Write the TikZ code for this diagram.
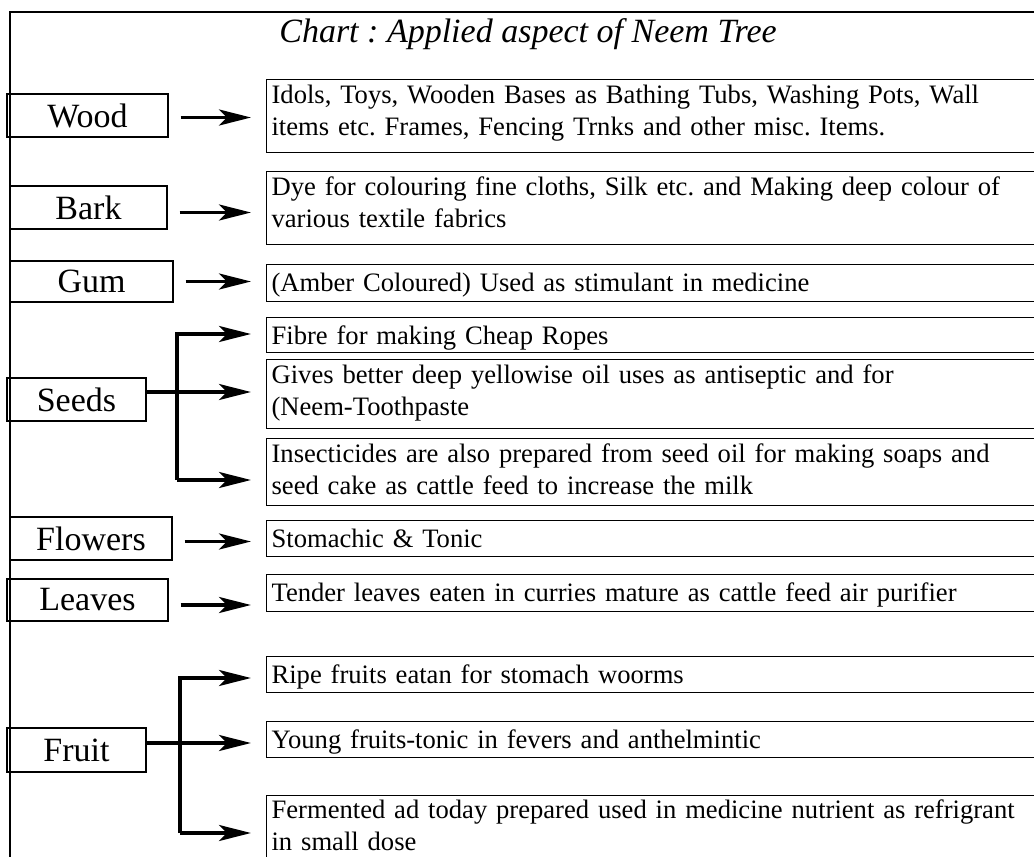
\documentclass[tikz,border=0pt]{standalone}
\usepackage{fontspec}
\setmainfont{Liberation Serif}
\frenchspacing
\usepackage{tikz}
\usetikzlibrary{arrows.meta, positioning}
\newcommand{\titlefont}{\fontsize{34}{40}\selectfont\itshape}
\newcommand{\labfont}{\fontsize{34}{40}\selectfont}
\newcommand{\usetxtfont}{\fontsize{26.6}{32}\selectfont}

\begin{document}
\begin{tikzpicture}[
		x=1pt, y=-1pt,
		partbox/.style={rectangle, draw, line width=1.2pt, inner sep=0pt,
			minimum height=43pt, font=\labfont},
		usebox/.style={rectangle, draw, line width=1.2pt, anchor=north west,
			inner xsep=5pt, inner ysep=0pt, text width=800pt, align=left, font=\usetxtfont},
		arr/.style={-{Stealth[length=32pt, width=16pt, inset=8pt]}, line width=3.8pt,
			shorten <=12pt, shorten >=15pt},
		fork/.style={line width=3.8pt}
		]
		\useasboundingbox (0,0) rectangle (1034,857);
		\begin{scope}
		\clip (0,0) rectangle (1034,857);
		% frame
		\draw[line width=1.5pt] (1040,12) -- (10,12) -- (10,870);
		\node[font=\titlefont, anchor=base] (title) at (528,42) {Chart : Applied aspect of Neem Tree};

		% parts of the tree
		\node[partbox, minimum width=161pt] (wood)    at (87.5,115.5) {Wood};
		\node[partbox, minimum width=157pt] (bark)    at (88.5,207.5) {Bark};
		\node[partbox, minimum width=163pt, minimum height=41pt] (gum) at (91.5,281.5) {Gum};
		\node[partbox, minimum width=139pt] (seeds)   at (76.5,399.5) {Seeds};
		\node[partbox, minimum width=162pt] (flowers) at (91,538.5)   {Flowers};
		\node[partbox, minimum width=161pt, minimum height=42pt] (leaves) at (87.5,600) {Leaves};
		\node[partbox, minimum width=139pt, minimum height=44pt] (fruit) at (76.5,750) {Fruit};

		% uses
		\node[usebox, text height=24pt, text depth=49pt] (woodUse) at (266,79)
		{Idols, Toys, Wooden Bases as Bathing Tubs, Washing Pots, Wall\\items etc. Frames, Fencing Trnks and other misc. Items.};
		\node[usebox, text height=24pt, text depth=49pt] (barkUse) at (266,171)
		{Dye for colouring fine cloths, Silk etc. and Making deep colour of\\various textile fabrics};
		\node[usebox, text height=27pt, text depth=10pt] (gumUse) at (266,264)
		{(Amber Coloured) Used as stimulant in medicine};
		\node[usebox, text height=27pt, text depth=8pt] (fibre) at (266,317)
		{Fibre for making Cheap Ropes};
		\node[usebox, text height=24pt, text depth=45pt] (oil) at (266,359)
		{Gives better deep yellowise oil uses as antiseptic and for\\(Neem-Toothpaste};
		\node[usebox, text height=24pt, text depth=43pt] (insect) at (266,438)
		{Insecticides are also prepared from seed oil for making soaps and\\seed cake as cattle feed to increase the milk};
		\node[usebox, text height=27pt, text depth=9pt] (flowersUse) at (266,520)
		{Stomachic \& Tonic};
		\node[usebox, text height=27pt, text depth=10pt] (leavesUse) at (266,574)
		{Tender leaves eaten in curries mature as cattle feed air purifier};
		\node[usebox, text height=27pt, text depth=9pt] (ripe) at (266,656)
		{Ripe fruits eatan for stomach woorms};
		\node[usebox, text height=27pt, text depth=9pt] (young) at (266,721)
		{Young fruits-tonic in fevers and anthelmintic};
		\node[usebox, text height=23pt, text depth=50pt] (ferment) at (266,795)
		{Fermented ad today prepared used in medicine nutrient as refrigrant\\in small dose};

		% single arrows
		\draw[arr] ([yshift=-2pt]wood.east)  -- ([yshift=-2pt]wood.east -| woodUse.west);
		\draw[arr] ([yshift=-5pt]bark.east)  -- ([yshift=-5pt]bark.east -| barkUse.west);
		\draw[arr] (gum.east)     -- (gum.east -| gumUse.west);
		\draw[arr] ([yshift=-3pt]flowers.east) -- ([yshift=-3pt]flowers.east -| flowersUse.west);
		\draw[arr] ([yshift=-5pt]leaves.east)  -- ([yshift=-5pt]leaves.east -| leavesUse.west);

		% seeds fork
		\coordinate (seedsTop) at (177,334);
		\coordinate (seedsMid) at (177,392);
		\coordinate (seedsLow) at (177,480);
		\draw[fork] (seeds.east |- seedsMid) -- (seedsMid);
		\draw[arr, shorten <=0pt] (seedsLow) -- (seedsTop) -- (seedsTop -| fibre.west);
		\draw[arr, shorten <=0pt] (seedsMid) -- (seedsMid -| oil.west);
		\draw[arr, shorten <=0pt] (seedsLow) -- (seedsLow -| insect.west);

		% fruit fork
		\coordinate (fruitTop) at (180,678);
		\coordinate (fruitMid) at (180,743);
		\coordinate (fruitLow) at (180,833);
		\draw[fork] (fruit.east |- fruitMid) -- (fruitMid);
		\draw[arr, shorten <=0pt] (fruitLow) -- (fruitTop) -- (fruitTop -| ripe.west);
		\draw[arr, shorten <=0pt] (fruitMid) -- (fruitMid -| young.west);
		\draw[arr, shorten <=0pt] (fruitLow) -- (fruitLow -| ferment.west);
		\end{scope}
	\end{tikzpicture}
\end{document}
